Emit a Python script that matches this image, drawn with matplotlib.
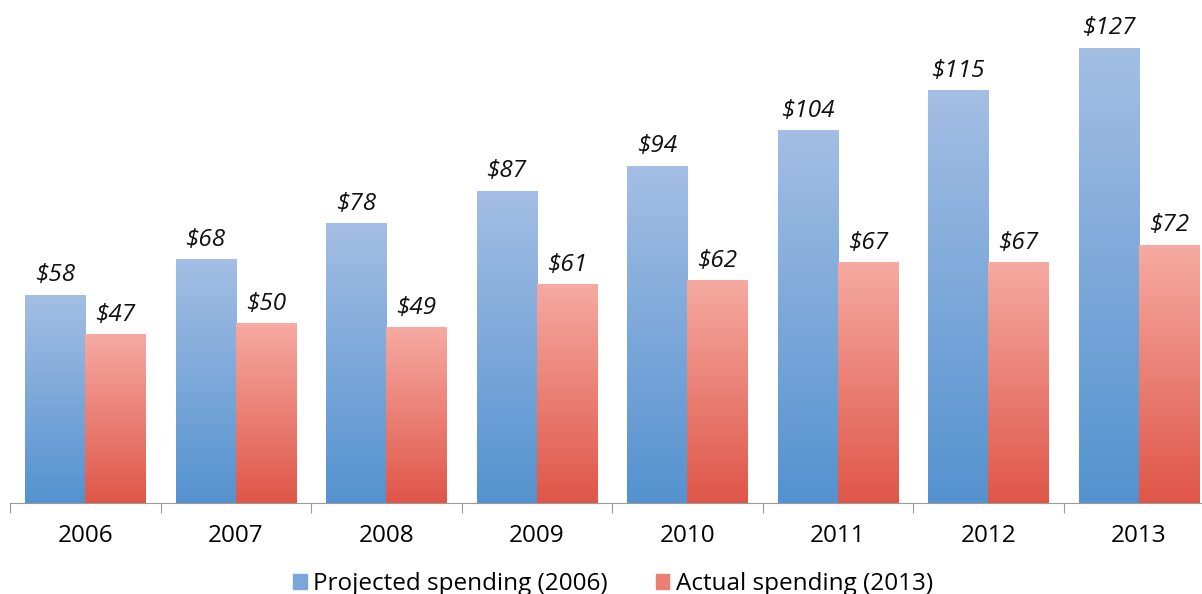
import numpy as np
import matplotlib.pyplot as plt
from matplotlib.patches import Patch
from matplotlib.colors import LinearSegmentedColormap

years = ["2006", "2007", "2008", "2009", "2010", "2011", "2012", "2013"]
projected = [58, 68, 78, 87, 94, 104, 115, 127]
actual = [47, 50, 49, 61, 62, 67, 67, 72]
series_names = ["Projected spending (2006)", "Actual spending (2013)"]

plt.rcParams['font.family'] = ['Open Sans', 'DejaVu Sans']

blue_cm = LinearSegmentedColormap.from_list("b", ["#5492cf", "#a4bee4"])
red_cm = LinearSegmentedColormap.from_list("r", ["#df5648", "#f6aaa2"])

fig = plt.figure(figsize=(12.02, 5.94), dpi=100)
ax = fig.add_axes([10 / 1202, 91 / 594, 1204 / 1202, 503 / 594])

grad = np.linspace(0, 1, 256).reshape(-1, 1)
w = 0.4
x = np.arange(len(years))
for i in x:
    for vals, cm, off in ((projected, blue_cm, -w), (actual, red_cm, 0)):
        x0 = i + off
        ax.imshow(grad, extent=[x0, x0 + w, 0, vals[i]], origin="lower",
                  cmap=cm, aspect="auto", interpolation="bicubic", zorder=2)
        ax.text(x0 + w / 2, vals[i] + 2.2, f"${vals[i]}", ha="center", va="bottom",
                fontsize=17.5, style="italic", color="#111111")

ax.set_xlim(-0.5, len(years) - 0.5)
ax.set_ylim(0, 140.4)
for s in ["top", "right", "left"]:
    ax.spines[s].set_visible(False)
ax.spines["bottom"].set_color("#999999")
ax.set_yticks([])
ax.set_xticks(x - 0.5, minor=False)
ax.set_xticklabels([])
ax.tick_params(axis="x", length=7, color="#999999")
ax.set_xticks(x, minor=True)
ax.set_xticklabels(years, minor=True, fontsize=17.5)
ax.tick_params(axis="x", which="minor", length=0, pad=15)

handles = [Patch(color="#7aa6d9"), Patch(color="#ec7f74")]
fig.legend(handles, series_names, loc="lower center", bbox_to_anchor=(0.51, -0.04),
           ncol=2, frameon=False, fontsize=17.5, handlelength=0.55, handleheight=0.6,
           handletextpad=0.25, columnspacing=2.0)

fig.savefig("out.png", dpi=100)
